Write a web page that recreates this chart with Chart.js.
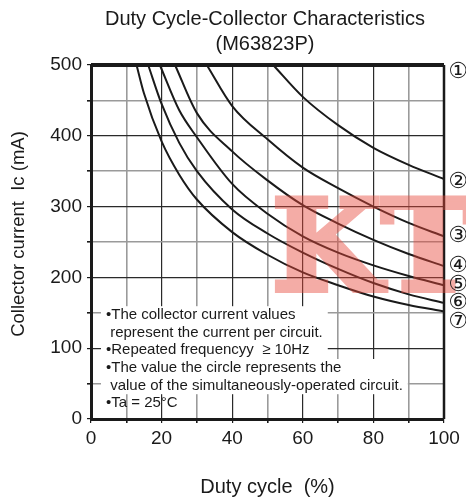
<!DOCTYPE html>
<html>
<head>
<meta charset="utf-8">
<script src="https://cdn.jsdelivr.net/npm/chart.js@4.4.1/dist/chart.umd.min.js"></script>
<style>
    html, body { margin: 0; padding: 0; background: #fff; }
    #wrap { width: 466px; height: 501px; }
</style>
</head>
<body>
<div id="wrap"><canvas id="chart" width="466" height="501"></canvas></div>
<script>
// values
const curve1Duty = [0, 100];
const curve1Ic = [500, 500];
const curve2Duty = [51.6, 60, 70, 80, 90, 100];
const curve2Ic = [500, 455, 415, 383, 359, 339];
const curve3Duty = [32.8, 40, 50, 60, 70, 80, 90, 100];
const curve3Ic = [500, 442, 395, 355, 326, 300, 277, 258];
const curve4Duty = [23.8, 30, 40, 50, 60, 70, 80, 90, 100];
const curve4Ic = [500, 432, 378, 337, 302, 276, 253, 233, 216];
const curve5Duty = [19.5, 25, 30, 40, 50, 60, 70, 80, 90, 100];
const curve5Ic = [500, 436, 398, 332, 290, 258, 235, 217, 202, 189];
const curve6Duty = [16.2, 20, 25, 30, 40, 50, 60, 70, 80, 90, 100];
const curve6Ic = [500, 445, 390, 350, 296, 262, 235, 212, 192, 176, 164];
const curve7Duty = [12.9, 15, 20, 25, 30, 40, 50, 60, 70, 80, 90, 100];
const curve7Ic = [500, 460, 392, 345, 310, 264, 232, 207, 189, 173, 161, 152];

const curveLabels = ['①', '②', '③', '④', '⑤', '⑥', '⑦'];
const xTickLabels = [0, 20, 40, 60, 80, 100];
const yTickLabels = [0, 100, 200, 300, 400, 500];

const noteLines = [
    '•The collector current values',
    ' represent the current per circuit.',
    '•Repeated frequencyy  ≥ 10Hz',
    '•The value the circle represents the',
    ' value of the simultaneously-operated circuit.',
    '•Ta = 25°C'
];

const FONT = '"Liberation Sans", Arial, sans-serif';

function toPoints(xs, ys) {
    return xs.map(function (x, i) { return {x: x, y: ys[i]}; });
}

const curves = [
    [curve1Duty, curve1Ic], [curve2Duty, curve2Ic], [curve3Duty, curve3Ic],
    [curve4Duty, curve4Ic], [curve5Duty, curve5Ic], [curve6Duty, curve6Ic],
    [curve7Duty, curve7Ic]
];

const datasets = curves.map(function (c, i) {
    return {
        label: curveLabels[i],
        data: toPoints(c[0], c[1]),
        borderColor: '#1a1a1a',
        borderWidth: i === 0 ? 4 : 2,
        pointRadius: 0,
        fill: false,
        cubicInterpolationMode: 'monotone',
        clip: 8
    };
});

// label offsets so the circled numbers do not overlap
const labelShift = [7, 3, 0, 0, 0, 0, 11];

// heavy "KT" stamp, drawn once on its own canvas
function makeStamp() {
    const c = document.createElement('canvas');
    c.width = 466;
    c.height = 501;
    const g = c.getContext('2d');
    g.fillStyle = 'rgb(230, 72, 58)';
    g.strokeStyle = 'rgb(230, 72, 58)';
    g.lineWidth = 6;
    g.lineJoin = 'miter';
    g.font = 'bold 126px "DejaVu Serif", "Liberation Serif", serif';
    g.textBaseline = 'alphabetic';
    g.fillText('KT', 272, 290);
    g.strokeText('KT', 272, 290);
    return c;
}
const stamp = makeStamp();

const decorPlugin = {
    id: 'decor',
    afterDatasetsDraw: function (chart) {
        const ctx = chart.ctx;
        const area = chart.chartArea;
        const ys = chart.scales.y;
        ctx.save();

        // right border
        ctx.strokeStyle = '#1a1a1a';
        ctx.lineWidth = 2.5;
        ctx.beginPath();
        ctx.moveTo(area.right, area.top);
        ctx.lineTo(area.right, area.bottom);
        ctx.stroke();

        // watermark
        ctx.globalAlpha = 0.45;
        ctx.drawImage(stamp, 0, 0);
        ctx.globalAlpha = 1;

        // notes with white backing
        ctx.font = '15px ' + FONT;
        ctx.textAlign = 'left';
        ctx.textBaseline = 'middle';
        const lineH = 17.6;
        const top0 = 315;
        const groups = [[0, 1, 2], [3, 4]];
        groups.forEach(function (g) {
            let w = 0;
            g.forEach(function (i) { w = Math.max(w, ctx.measureText(noteLines[i]).width); });
            ctx.fillStyle = '#fff';
            ctx.fillRect(101, top0 + g[0] * lineH - lineH / 2, w + 10, g.length * lineH);
        });
        ctx.fillStyle = '#1a1a1a';
        noteLines.forEach(function (t, i) {
            ctx.fillText(t, 106, top0 + i * lineH);
        });

        // circled curve numbers
        ctx.font = '22px "DejaVu Sans", sans-serif';
        ctx.textAlign = 'center';
        curves.forEach(function (c, i) {
            const yEnd = ys.getPixelForValue(c[1][c[1].length - 1]);
            ctx.fillText(curveLabels[i], area.right + 14, yEnd + labelShift[i]);
        });

        // titles
        ctx.font = '20px ' + FONT;
        ctx.fillText('Duty Cycle-Collector Characteristics', 265, 19);
        ctx.fillText('(M63823P)', 265, 44);

        ctx.fillText('Duty cycle  (%)', (area.left + area.right) / 2, 487);
        ctx.font = '18.5px ' + FONT;
        ctx.translate(19, (area.top + area.bottom) / 2 - 8);
        ctx.rotate(-Math.PI / 2);
        ctx.fillText('Collector current  Ic (mA)', 0, 0);
        ctx.restore();
    }
};

new Chart(document.getElementById('chart'), {
    type: 'line',
    data: {datasets: datasets},
    options: {
        responsive: false,
        animation: false,
        events: [],
        layout: {padding: {top: 65, right: 22, left: 0, bottom: 0}},
        plugins: {
            legend: {display: false},
            title: {display: false},
            tooltip: {enabled: false}
        },
        scales: {
            x: {
                type: 'linear',
                min: 0,
                max: 100,
                afterFit: function (s) { s.height = 82; },
                ticks: {
                    stepSize: 10,
                    autoSkip: false,
                    maxRotation: 0,
                    padding: 4,
                    color: '#1a1a1a',
                    font: {family: FONT, size: 19},
                    callback: function (v) { return xTickLabels.includes(v) ? v : ''; }
                },
                grid: {
                    color: function (c) { return c.tick.value % 20 === 0 ? '#2a2a2a' : '#9a9a9a'; },
                    lineWidth: function (c) { return c.tick.value % 20 === 0 ? 1.2 : 1.6; },
                    tickLength: 4,
                    tickColor: '#1a1a1a'
                },
                border: {color: '#1a1a1a', width: 3}
            },
            y: {
                min: 0,
                max: 500,
                afterFit: function (s) { s.width = 91; },
                ticks: {
                    stepSize: 50,
                    autoSkip: false,
                    padding: 5,
                    color: '#1a1a1a',
                    font: {family: FONT, size: 19},
                    callback: function (v) { return yTickLabels.includes(v) ? v : ''; }
                },
                grid: {
                    color: function (c) { return c.tick.value % 100 === 0 ? '#2a2a2a' : '#9a9a9a'; },
                    lineWidth: function (c) { return c.tick.value % 100 === 0 ? 1.2 : 1.6; },
                    tickLength: 4,
                    tickColor: '#1a1a1a'
                },
                border: {color: '#1a1a1a', width: 3}
            }
        }
    },
    plugins: [decorPlugin]
});
</script>
</body>
</html>
